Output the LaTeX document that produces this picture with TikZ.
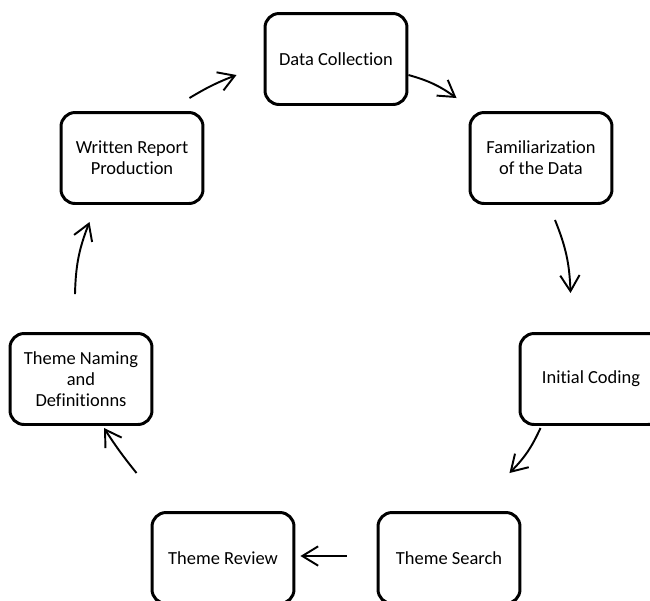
\documentclass[tikz,border=0pt]{standalone}
\usepackage{fontspec}
\setmainfont{Carlito}[Ligatures=NoCommon]
\usetikzlibrary{arrows.meta,calc}

\begin{document}
\begin{tikzpicture}[x=0.02cm, y=-0.02cm,
  stage/.style={draw, line width=1.7pt, rounded corners=8pt, minimum width=2.84cm, minimum height=1.82cm, align=center, font=\fontsize{10.5}{11.8}\selectfont},
  flow/.style={line width=1.1pt, -{Straight Barb[length=9pt,width=11pt]}}]
\useasboundingbox (0,0) rectangle (650,600);
\clip (0,0) rectangle (650,600);

\node[stage] (dc) at (336,59) {Data Collection};
\node[stage] (fam) at (541,158) {Familiarization\\of the Data};
\node[stage] (ic) at (591,379) {Initial Coding};
\node[stage] (ts) at (449,558) {Theme Search};
\node[stage] (tr) at (223,558) {Theme Review};
\node[stage] (tn) at (81,379) {Theme Naming\\and\\Definitionns};
\node[stage] (wrp) at (132,158) {Written Report\\Production};

\draw[flow] ($(wrp.north east)+(-15,-13)$) to[bend left=5] ($(dc.west)+(-27,16)$);
\draw[flow] ($(dc.east)+(0,16)$) to[bend left=10] ($(fam.north west)+(-12,-13)$);
\draw[flow] ($(fam.south)+(14,15)$) to[bend left=10] ($(ic.north west)+(52,-39)$);
\draw[flow] ($(ic.south west)+(22,2)$) to[bend left=10] ($(ts.north east)+(-12,-38)$);
\draw[flow] ($(ts.west)+(-30,-2)$) -- ($(tr.east)+(5,-2)$);
\draw[flow] ($(tr.north west)+(-14,-38)$) to[bend left=3] ($(tn.south)+(23,2)$);
\draw[flow] ($(tn.north)+(-6,-38)$) to[bend left=10] ($(wrp.south west)+(30,17)$);
\end{tikzpicture}
\end{document}
